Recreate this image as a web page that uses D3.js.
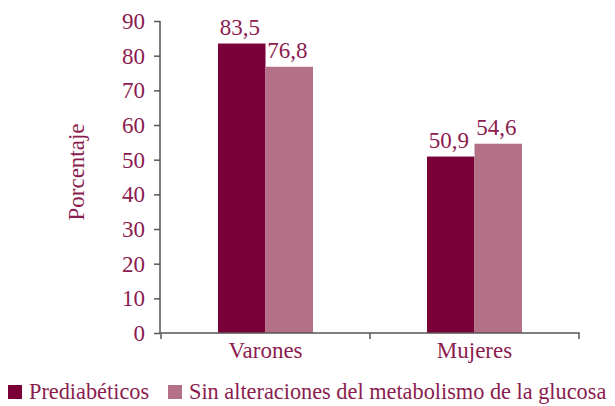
<!DOCTYPE html>
<html>
<head>
<meta charset="utf-8">
<script src="https://cdn.jsdelivr.net/npm/d3@7"></script>
<style>
  body { margin: 0; background: #fff; }
  svg { display: block; }
</style>
</head>
<body>
<svg id="chart" width="615" height="406"></svg>
<script>
// data
var categories = ["Varones", "Mujeres"];
var seriesNames = ["Prediabéticos", "Sin alteraciones del metabolismo de la glucosa"];
var prediabeticos = [83.5, 50.9];
var sinAlteraciones = [76.8, 54.6];
var yTicks = [0, 10, 20, 30, 40, 50, 60, 70, 80, 90];
var colors = ["#7a0038", "#b37087"];

var FONT = "'Liberation Serif', serif";
var TXT = "#8b1c4f";
var fs = 23;
var legendFs = 22.3;

var svg = d3.select("#chart")
    .attr("font-family", FONT);

var x = d3.scaleBand().domain(categories).range([161, 579]);
var y = d3.scaleLinear().domain([0, 90]).range([333, 21]);
var barW = 47.5;

function styleText(sel, size) {
    sel.attr("font-family", FONT).attr("font-size", size + "px").attr("fill", TXT);
}

// y axis
var yAxis = svg.append("g")
    .attr("transform", "translate(160,0)")
    .call(d3.axisLeft(y).tickValues(yTicks).tickSize(6).tickPadding(9));
yAxis.attr("font-family", FONT);
yAxis.select(".domain").attr("stroke", "#555").attr("stroke-width", 1.5)
    .attr("d", "M0," + y(90) + "V" + y(0));
yAxis.selectAll(".tick line").attr("stroke", "#555").attr("stroke-width", 1.5);
styleText(yAxis.selectAll(".tick text"), fs);

// bars
var series = [prediabeticos, sinAlteraciones];
series.forEach(function(vals, s) {
    var g = svg.append("g");
    g.selectAll("rect").data(vals).enter().append("rect")
        .attr("x", function(d, i) { return x(categories[i]) + x.bandwidth() / 2 - barW + s * barW; })
        .attr("y", function(d) { return y(d); })
        .attr("width", barW)
        .attr("height", function(d) { return y(0) - y(d); })
        .attr("fill", colors[s]);
    var t = g.selectAll("text").data(vals).enter().append("text")
        .attr("x", function(d, i) { return x(categories[i]) + x.bandwidth() / 2 - barW / 2 + s * barW - 2; })
        .attr("y", function(d) { return y(d) - 9; })
        .attr("text-anchor", "middle")
        .text(function(d) { return String(d).replace(".", ","); });
    styleText(t, fs);
});

// x axis (drawn after bars so it sits on top)
var xAxis = svg.append("g")
    .attr("transform", "translate(0,333)")
    .call(d3.axisBottom(x).tickSize(0).tickPadding(9));
xAxis.attr("font-family", FONT);
xAxis.select(".domain").attr("stroke", "#555").attr("stroke-width", 1.5)
    .attr("d", "M161,6V0H579V6");
styleText(xAxis.selectAll(".tick text"), fs);
// tick between the groups
xAxis.append("line").attr("x1", 370).attr("x2", 370).attr("y1", 0).attr("y2", 6)
    .attr("stroke", "#555").attr("stroke-width", 1.5);

// y title
var yt = svg.append("text")
    .attr("transform", "translate(84,172) rotate(-90)")
    .attr("text-anchor", "middle")
    .text("Porcentaje");
styleText(yt, fs);

// legend
var legX = [8, 168];
seriesNames.forEach(function(name, i) {
    svg.append("rect").attr("x", legX[i]).attr("y", 385).attr("width", 14).attr("height", 14)
        .attr("fill", colors[i]);
    var lt = svg.append("text").attr("x", legX[i] + 21).attr("y", 399).text(name);
    styleText(lt, legendFs);
});
</script>
</body>
</html>
